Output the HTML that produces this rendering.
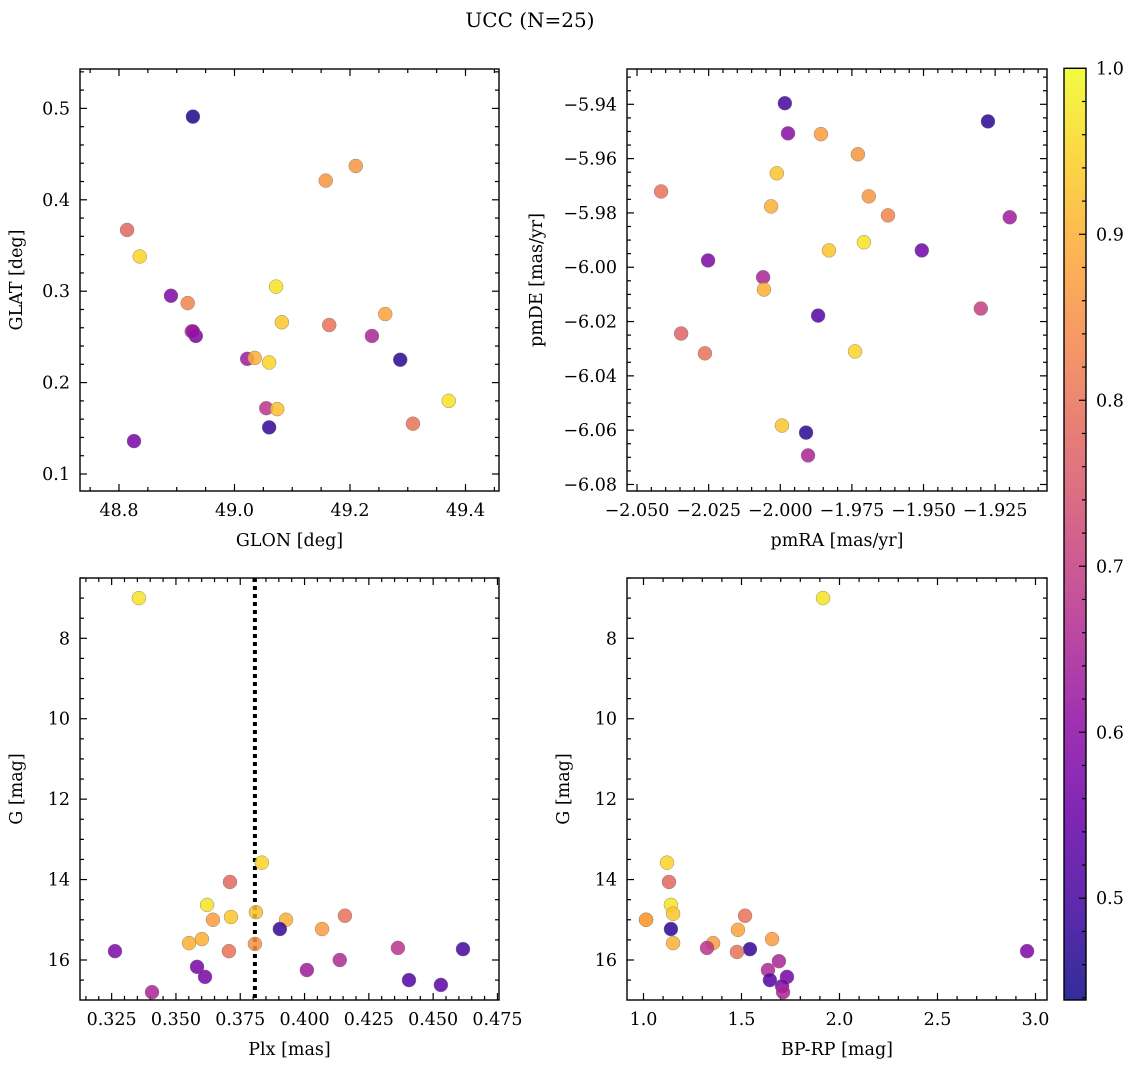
<!DOCTYPE html>
<html><head><meta charset="utf-8"><style>
html,body{margin:0;padding:0;background:#fff;}
svg text{font-family:"DejaVu Serif","Liberation Serif",serif;fill:#000;}
</style></head><body>
<svg id="fig" width="1136" height="1068" viewBox="0 0 1136 1068" xmlns="http://www.w3.org/2000/svg">
<defs>
<linearGradient id="plasma" x1="0" y1="1" x2="0" y2="0"></linearGradient>
</defs>
<text x="530" y="27" font-size="20" text-anchor="middle">UCC (N=25)</text>
</svg>
<script>
// Panel 1: GLON vs GLAT
const glon1 = [48.928,49.158,49.210,48.814,48.836,48.890,48.919,49.072,48.926,48.933,49.082,49.164,49.261,49.022,49.035,49.060,49.238,49.287,49.055,49.074,49.371,49.060,49.309,48.826,48.928];
const glat1 = [0.491,0.421,0.437,0.367,0.338,0.295,0.287,0.305,0.256,0.251,0.266,0.263,0.275,0.226,0.227,0.222,0.251,0.225,0.172,0.171,0.180,0.151,0.155,0.136,0.256];
const prob1 = [0.45,0.86,0.86,0.78,0.95,0.58,0.83,0.97,0.68,0.57,0.93,0.80,0.88,0.63,0.90,0.95,0.65,0.47,0.68,0.92,0.97,0.48,0.80,0.57,0.62];
// Panel 2: pmRA vs pmDE
const pmra2 = [-1.9984,-1.9275,-1.9973,-1.9858,-1.9729,-2.0416,-2.0012,-1.9691,-2.0032,-1.9624,-1.9199,-1.9708,-1.9830,-1.9506,-2.0252,-2.0060,-2.0057,-1.9300,-1.9868,-2.0346,-2.0263,-1.9739,-1.9994,-1.9910,-1.9903];
const pmde2 = [-5.9396,-5.9463,-5.9507,-5.9510,-5.9584,-5.9721,-5.9654,-5.9739,-5.9776,-5.9809,-5.9816,-5.9908,-5.9938,-5.9938,-5.9975,-6.0037,-6.0082,-6.0152,-6.0178,-6.0244,-6.0317,-6.0310,-6.0583,-6.0609,-6.0693];
const prob2 = [0.50,0.47,0.60,0.87,0.86,0.80,0.93,0.86,0.90,0.83,0.63,0.97,0.93,0.56,0.58,0.65,0.90,0.70,0.52,0.77,0.80,0.95,0.93,0.47,0.65];
// Panel 3: Plx vs G
const plx3 = [0.3356,0.3834,0.3710,0.3621,0.3811,0.4157,0.3644,0.3714,0.3928,0.4068,0.3904,0.3601,0.3551,0.3807,0.3706,0.3263,0.4363,0.4616,0.4137,0.3582,0.4009,0.3613,0.4406,0.4530,0.3407];
const g3 = [7.00,13.58,14.06,14.63,14.81,14.90,15.00,14.93,15.00,15.23,15.23,15.48,15.58,15.60,15.78,15.78,15.70,15.73,16.00,16.17,16.25,16.42,16.50,16.62,16.80];
const prob3 = [0.97,0.95,0.78,0.97,0.92,0.80,0.87,0.93,0.90,0.87,0.48,0.90,0.90,0.85,0.80,0.58,0.68,0.50,0.66,0.57,0.63,0.57,0.52,0.53,0.65];
const plxLine = [0.3807];
// Panel 4: BP-RP vs G
const bprp4 = [1.916,1.120,1.130,1.140,1.518,1.013,1.151,1.140,1.482,1.355,1.151,1.656,1.324,1.543,1.477,2.957,1.691,1.635,1.732,1.645,1.707,1.712,1.013];
const g4 = [7.00,13.58,14.06,14.63,14.90,15.00,14.85,15.23,15.25,15.58,15.58,15.48,15.70,15.73,15.80,15.78,16.03,16.25,16.42,16.50,16.65,16.80,15.00];
const prob4 = [0.97,0.95,0.78,0.97,0.80,0.86,0.93,0.47,0.88,0.87,0.90,0.87,0.68,0.48,0.80,0.58,0.65,0.66,0.57,0.52,0.57,0.65,0.88];
// Tick labels
const ticks1x = [48.8,49.0,49.2,49.4];
const ticks1y = [0.1,0.2,0.3,0.4,0.5];
const ticks2x = [-2.050,-2.025,-2.000,-1.975,-1.950,-1.925];
const ticks2y = [-5.94,-5.96,-5.98,-6.00,-6.02,-6.04,-6.06,-6.08];
const ticks3x = [0.325,0.350,0.375,0.400,0.425,0.450,0.475];
const ticksG = [8,10,12,14,16];
const ticks4x = [1.0,1.5,2.0,2.5,3.0];
const ticksCb = [0.5,0.6,0.7,0.8,0.9,1.0];
const cbMin = 0.4387, cbMax = 1.0;

const NS = "http://www.w3.org/2000/svg";
const svg = document.getElementById('fig');
const FS = 17.5;
function mk(tag, attrs, parent){const e=document.createElementNS(NS,tag);for(const k in attrs)e.setAttribute(k,attrs[k]);(parent||svg).appendChild(e);return e;}
const stops=[[13,8,135],[65,4,157],[106,0,168],[143,13,164],[177,42,144],[204,71,120],[225,100,98],[242,132,75],[252,166,54],[252,206,37],[240,249,33]];
function plasma(t){t=Math.max(0,Math.min(1,t))*10;const i=Math.min(9,Math.floor(t)),f=t-i;const a=stops[i],b=stops[i+1];return `rgb(${Math.round(a[0]+(b[0]-a[0])*f)},${Math.round(a[1]+(b[1]-a[1])*f)},${Math.round(a[2]+(b[2]-a[2])*f)})`;}
function pc(p){return plasma((p-cbMin)/(cbMax-cbMin));}
function fmt(v,d){let s=v.toFixed(d);return s.replace('-','\u2212');}

function panel(o){
  const g=mk('g',{});
  
  
  const sx=v=>o.x0+(v-o.xd[0])/(o.xd[1]-o.xd[0])*(o.x1-o.x0);
  const sy=v=>o.y1-(v-o.yd[0])/(o.yd[1]-o.yd[0])*(o.y1-o.y0);
  function ticks(arr,minorStep,isX,dec){
    const d=isX?o.xd:o.yd;
    const lo=Math.min(d[0],d[1]),hi=Math.max(d[0],d[1]);
    const start=Math.ceil(lo/minorStep-1e-6);
    for(let k=start;k*minorStep<=hi+1e-9;k++){
      const v=k*minorStep;
      const isMajor=arr.some(a=>Math.abs(a-v)<minorStep/10);
      const L=isMajor?7:4;
      if(isX){const x=sx(v);
        mk('line',{x1:x,x2:x,y1:o.y1,y2:o.y1-L,stroke:'#000','stroke-width':1.2},g);
        mk('line',{x1:x,x2:x,y1:o.y0,y2:o.y0+L,stroke:'#000','stroke-width':1.2},g);
      } else {const y=sy(v);
        mk('line',{x1:o.x0,x2:o.x0+L,y1:y,y2:y,stroke:'#000','stroke-width':1.2},g);
        mk('line',{x1:o.x1,x2:o.x1-L,y1:y,y2:y,stroke:'#000','stroke-width':1.2},g);
      }
    }
    arr.forEach(v=>{
      let t;
      if(isX){t=mk('text',{x:sx(v),y:o.y1+25,'font-size':FS,'text-anchor':'middle'},g);}
      else {t=mk('text',{x:o.x0-10,y:sy(v)+6,'font-size':FS,'text-anchor':'end'},g);}
      t.textContent=fmt(v,dec);
      
      
    });
  }
  ticks(o.tx,o.mx,true,o.dx);
  ticks(o.ty,o.my,false,o.dy);
  if(o.vline){o.vline.forEach(v=>{const l=mk('line',{x1:sx(v),x2:sx(v),y1:o.y0,y2:o.y1,stroke:'#000','stroke-width':4,'stroke-dasharray':'4 4'},g);
    
    });}
  o.xs.forEach((xv,i)=>{
    const c=mk('circle',{cx:sx(xv),cy:sy(o.ys[i]),r:7,fill:pc(o.ps[i]),'fill-opacity':0.85,stroke:'#777','stroke-width':0.4},g);
    
    
  });
  const fr=mk('rect',{x:o.x0,y:o.y0,width:o.x1-o.x0,height:o.y1-o.y0,fill:'none',stroke:'#000','stroke-width':1.4},g);
  
  
  const xl=mk('text',{x:(o.x0+o.x1)/2,y:o.y1+55,'font-size':FS,'text-anchor':'middle'},g);
  xl.textContent=o.xlab;
  
  
  const yx=o.x0-o.ylOff, yy=(o.y0+o.y1)/2;
  const yl=mk('text',{x:yx,y:yy,'font-size':FS,'text-anchor':'middle',transform:`rotate(-90 ${yx} ${yy})`},g);
  yl.textContent=o.ylab;
  
  
}

panel({name:'glon-glat-panel',x0:80,x1:499,y0:69,y1:491,xd:[48.7325,49.458],yd:[0.0814,0.5431],
  tx:ticks1x,mx:0.05,dx:1,ty:ticks1y,my:0.02,dy:1,xs:glon1,ys:glat1,ps:prob1,xlab:'GLON [deg]',ylab:'GLAT [deg]',ylOff:58});
panel({name:'pm-panel',x0:627,x1:1047,y0:69,y1:491,xd:[-2.0535,-1.9069],yd:[-6.0824,-5.927],
  tx:ticks2x,mx:0.005,dx:3,ty:ticks2y,my:0.005,dy:2,xs:pmra2,ys:pmde2,ps:prob2,xlab:'pmRA [mas/yr]',ylab:'pmDE [mas/yr]',ylOff:85});
panel({name:'plx-g-panel',x0:80,x1:499,y0:578,y1:1000,xd:[0.3127,0.4756],yd:[16.995,6.5],
  tx:ticks3x,mx:0.005,dx:3,ty:ticksG,my:0.5,dy:0,xs:plx3,ys:g3,ps:prob3,xlab:'Plx [mas]',ylab:'G [mag]',ylOff:58,vline:plxLine});
panel({name:'cmd-panel',x0:627,x1:1047,y0:578,y1:1000,xd:[0.9158,3.0587],yd:[16.995,6.5],
  tx:ticks4x,mx:0.1,dx:1,ty:ticksG,my:0.5,dy:0,xs:bprp4,ys:g4,ps:prob4,xlab:'BP-RP [mag]',ylab:'G [mag]',ylOff:58});

const grad=document.getElementById('plasma');
for(let i=0;i<=20;i++){const t=i/20;mk('stop',{offset:t,'stop-color':plasma(t)},grad);}
const cb=mk('g',{});


const cx0=1064,cx1=1086,cy0=68.3,cy1=1000;
mk('rect',{x:cx0,y:cy0,width:cx1-cx0,height:cy1-cy0,fill:'url(#plasma)','fill-opacity':0.85},cb);
const cy=v=>cy1-(v-cbMin)/(cbMax-cbMin)*(cy1-cy0);
for(let k=22;k<=50;k++){const v=k*0.02;if(v<cbMin)continue;const maj=k%5===0;
  mk('line',{x1:cx1,x2:cx1-(maj?7:4),y1:cy(v),y2:cy(v),stroke:'#000','stroke-width':1.2},cb);}
ticksCb.forEach(v=>{const t=mk('text',{x:cx1+10,y:cy(v)+6,'font-size':FS},cb);t.textContent=v.toFixed(1);
  
  });
mk('rect',{x:cx0,y:cy0,width:cx1-cx0,height:cy1-cy0,fill:'none',stroke:'#000','stroke-width':1.4},cb);
</script>
</body></html>
